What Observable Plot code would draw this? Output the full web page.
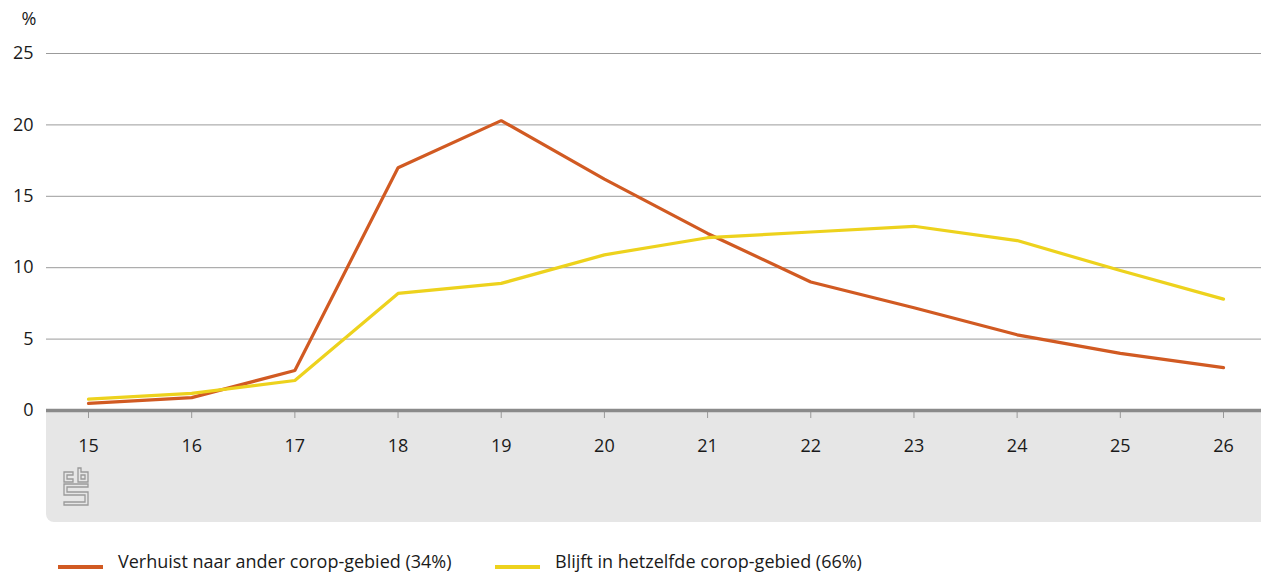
<!DOCTYPE html>
<html>
<head>
<meta charset="utf-8">
<script src="https://cdn.jsdelivr.net/npm/d3@7"></script>
<script src="https://cdn.jsdelivr.net/npm/@observablehq/plot@0.6"></script>
<style>
  html, body { margin: 0; padding: 0; background: #fff; }
  body { font-family: "Open Sans", "Noto Sans", sans-serif; color: #1a1a1a; width: 1261px; }
  #chart svg { display: block; }
  .legend { position: relative; height: 51px; font-size: 18px; }
  .legend .item { position: absolute; top: 26px; display: flex; align-items: center; line-height: 26px; }
  .legend .sw { width: 45px; height: 4px; margin-right: 15px; margin-top: 12px; }
</style>
</head>
<body>
<div id="chart"></div>
<div class="legend" id="legend"></div>
<script>
const ages = [15, 16, 17, 18, 19, 20, 21, 22, 23, 24, 25, 26];
const verhuist = [0.5, 0.9, 2.8, 17.0, 20.3, 16.2, 12.4, 9.0, 7.2, 5.3, 4.0, 3.0];
const blijft = [0.8, 1.2, 2.1, 8.2, 8.9, 10.9, 12.1, 12.5, 12.9, 11.9, 9.8, 7.8];
const seriesNames = ["Verhuist naar ander corop-gebied (34%)", "Blijft in hetzelfde corop-gebied (66%)"];
const colors = ["#d15a22", "#edd21d"];
const yTicks = [0, 5, 10, 15, 20, 25];

const data = [];
ages.forEach((a, i) => {
  data.push({age: a, value: verhuist[i], series: seriesNames[0]});
  data.push({age: a, value: blijft[i], series: seriesNames[1]});
});

// grey band below the axis, with rounded bottom-left corner
const band = (index, scales, values, dim) => {
  const x0 = dim.marginLeft, x1 = dim.width, y0 = dim.height - dim.marginBottom, y1 = dim.height, r = 8;
  const g = d3.create("svg:g");
  g.append("path")
    .attr("d", `M${x0},${y0}H${x1}V${y1}H${x0 + r}A${r},${r} 0 0 1 ${x0},${y1 - r}Z`)
    .attr("fill", "#e6e6e6");
  // cbs logo (outline)
  const lx = x0 + 17, ly = y0 + 58;
  const lg = g.append("g").attr("transform", `translate(${lx},${ly})`)
    .attr("fill", "none").attr("stroke", "#9a9a9a").attr("stroke-width", 1.3);
  lg.append("path").attr("d", "M1,4H10V7H4V11H10V14H1Z");
  lg.append("path").attr("d", "M15,0H18V4H25V14H15Z M18,7V11H22V7Z");
  lg.append("path").attr("d", "M1,16H25V19H4V24H25V37H1V34H22V27H1Z");
  return g.node();
};

const plot = Plot.plot({
  width: 1261,
  height: 522,
  marginLeft: 46,
  marginRight: 0,
  marginTop: 53,
  marginBottom: 112,
  style: {fontFamily: "'Open Sans', 'Noto Sans', sans-serif", fontSize: "18px", color: "#1a1a1a", background: "transparent"},
  x: {type: "linear", domain: [15, 26], insetLeft: 42, insetRight: 38},
  y: {domain: [0, 25]},
  color: {domain: seriesNames, range: colors},
  marks: [
    band,
    Plot.gridY(yTicks, {stroke: "#9b9b9b", strokeOpacity: 1, strokeWidth: 1}),
    Plot.axisY(yTicks, {tickSize: 0, tickPadding: 13, label: null, fontSize: 18}),
    Plot.text(["%"], {frameAnchor: "top-left", dx: -25, dy: -41, fontSize: 18, fill: "#1a1a1a"}),
    Plot.ruleX(ages, {x: d => d, y1: 0, y2: 0, stroke: "#999", strokeWidth: 1, insetBottom: -8, insetTop: 0}),
    Plot.axisX(ages, {tickSize: 0, tickPadding: 29, tickFormat: d => String(d), label: null, fontSize: 18}),
    Plot.ruleY([0], {stroke: "#8a8a8a", strokeWidth: 3.5}),
    Plot.lineY(data, {x: "age", y: "value", stroke: "series", strokeWidth: 3.2, strokeLinejoin: "miter"})
  ]
});
document.getElementById("chart").appendChild(plot);

const legend = document.getElementById("legend");
const lefts = [58, 495];
seriesNames.forEach((name, i) => {
  const item = document.createElement("div");
  item.className = "item";
  item.style.left = lefts[i] + "px";
  item.innerHTML = `<span class="sw" style="background:${colors[i]}"></span><span>${name}</span>`;
  legend.appendChild(item);
});
</script>
</body>
</html>
